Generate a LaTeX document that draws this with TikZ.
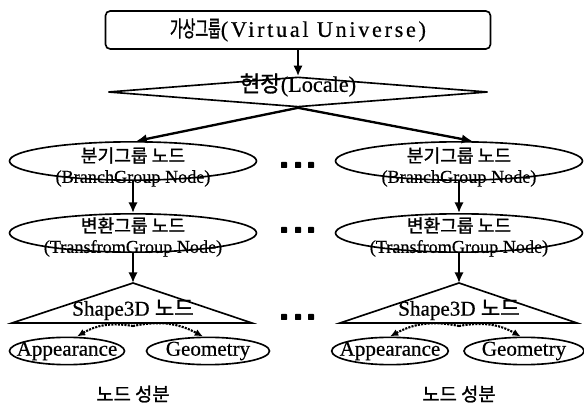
\documentclass[tikz,border=0pt]{standalone}
\usepackage{fontspec}
\setmainfont{Liberation Serif}[FakeBold=0.5]
\newfontfamily\kr{Noto Sans CJK KR}[FakeBold=1.2]
\newfontfamily\krnarrow{Noto Sans CJK KR}[FakeStretch=0.62,FakeBold=1.2]
\newfontfamily\spaced{Liberation Serif}[LetterSpace=12,FakeBold=0.5]
\usetikzlibrary{shapes.geometric,arrows.meta,positioning}
\tikzset{
  >={Latex[length=9pt,width=8pt]},
  link/.style={->, line width=2pt},
  part/.style={->, densely dotted, line width=1.8pt, >={Latex[length=7pt,width=6pt]}},
}

\begin{document}
\begin{tikzpicture}[
  x=0.03cm, y=-0.03cm,
  box/.style={draw, rounded corners=4pt, line width=1.4pt, minimum width=11.55cm, minimum height=1.14cm},
  oval/.style={ellipse, draw, line width=1.4pt, inner sep=0pt},
  group/.style={oval, minimum width=7.41cm, minimum height=1.15cm},
  leaf/.style={oval, minimum height=0.82cm},
  tri/.style={draw, line width=1.4pt, line join=miter},
  big/.style={font=\fontsize{19}{21}\selectfont},
  mid/.style={font=\fontsize{18}{20}\selectfont},
  two/.style={font=\fontsize{15.5}{17.5}\selectfont, align=center},
  caption/.style={font=\fontsize{16}{18}\selectfont\kr}
]
\useasboundingbox (0,0) rectangle (584,403);

% root and locale
\node[box, big] (vu) at (298,30) {{\krnarrow 가상그룹}{\spaced (Virtual Universe)}};
\node[diamond, draw, line width=1.4pt, inner sep=0pt, minimum width=11.4cm, minimum height=0.9cm] (loc) at (298,92) {};
\node[big] (loct) at (298,85) {{\kr 현장}(Locale)};

\draw[link] (vu.south) -- (loc.north);

% left branch
\node[group] (bg1) at (133,161) {};
\node[two] (bg1t) at (133,167) {{\kr 분기그룹 노드}\\(BranchGroup Node)};
\node[group] (tg1) at (133,233) {};
\node[two] (tg1t) at (133,237) {{\kr 변환그룹 노드}\\(TransfromGroup Node)};
\coordinate (sh1) at (133,283);
\draw[tri] (sh1) -- ++(-121,40) -- ++(240,0) -- cycle;
\node[mid] (sh1t) at (133,310) {Shape3D {\kr 노드}};
\coordinate (sb1) at (133,326);
\node[leaf, minimum width=3.45cm] (app1) at (67,351) {};
\node[mid] (app1t) at (app1) {Appearance};
\node[leaf, minimum width=3.69cm] (geo1) at (208,351) {};
\node[mid] (geo1t) at (geo1) {Geometry};
\node[caption] (cap1) at (133,394) {노드 성분};

% right branch
\node[group] (bg2) at (459,161) {};
\node[two] (bg2t) at (459,167) {{\kr 분기그룹 노드}\\(BranchGroup Node)};
\node[group] (tg2) at (459,233) {};
\node[two] (tg2t) at (459,237) {{\kr 변환그룹 노드}\\(TransfromGroup Node)};
\coordinate (sh2) at (459,283);
\draw[tri] (sh2) -- ++(-119,40) -- ++(237,0) -- cycle;
\node[mid] (sh2t) at (459,310) {Shape3D {\kr 노드}};
\coordinate (sb2) at (459,326);
\node[leaf, minimum width=3.5cm] (app2) at (390,351) {};
\node[mid] (app2t) at (app2) {Appearance};
\node[leaf, minimum width=3.6cm] (geo2) at (524,351) {};
\node[mid] (geo2t) at (geo2) {Geometry};
\node[caption] (cap2) at (459,394) {노드 성분};

% connectors
\draw[link] (loc.south) -- ([xshift=0.1cm]bg1.north);
\draw[link] (loc.south) -- ([xshift=0.4cm]bg2.north);
\draw[link] (bg1.south) -- (tg1.north);
\draw[link] (bg2.south) -- (tg2.north);
\draw[link] (tg1.south) -- (sh1);
\draw[link] (tg2.south) -- (sh2);
\draw[part] (sb1) to[bend right=20] ([xshift=0.3cm]app1.north);
\draw[part] (sb1) to[bend left=20] ([xshift=-0.15cm]geo1.north);
\draw[part] (sb2) to[bend right=20] (app2.north);
\draw[part] (sb2) to[bend left=20] ([xshift=-0.1cm]geo2.north);

% dots between the branches
\foreach \y in {165,230,317}
  \foreach \x in {284,298,311}
    \fill[rounded corners=0.6pt] ({\x-3},{\y-3}) rectangle ({\x+3},{\y+3});
\end{tikzpicture}
\end{document}
